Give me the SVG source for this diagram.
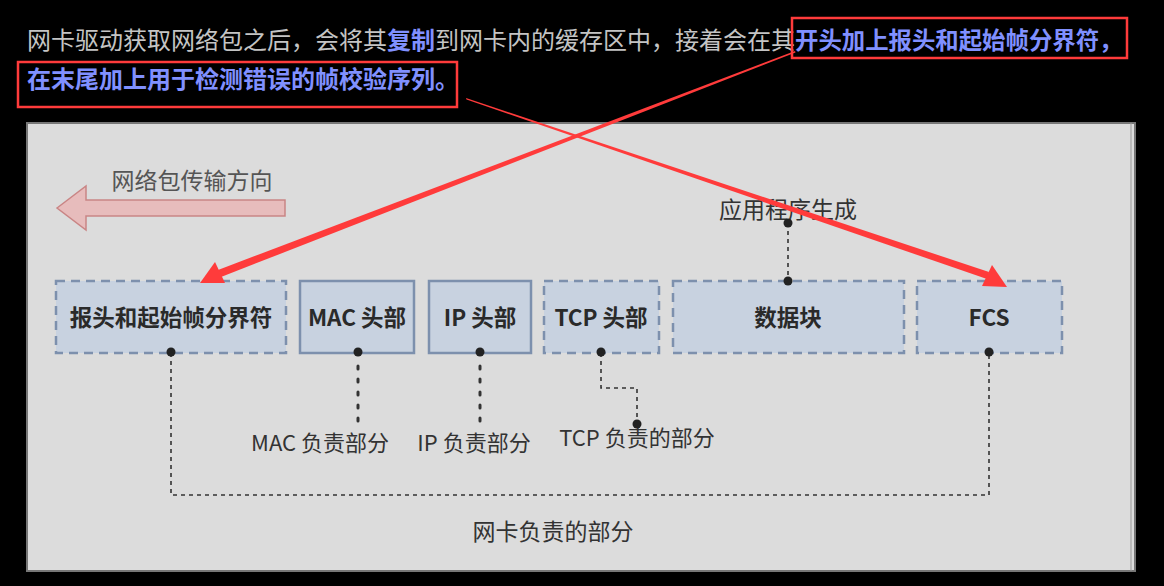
<svg xmlns="http://www.w3.org/2000/svg" width="1164" height="586" viewBox="0 0 1164 586">
<defs>
<style>
.t{font-family:"Noto Sans CJK SC","Noto Sans",sans-serif;}
.g{fill:#c4c4c4;}
.b{fill:#8090ff;font-weight:bold;}
.red{fill:none;stroke:#ff3b3b;stroke-width:2.5;}
.node{fill:#c8d2e0;stroke:#7d90ad;stroke-width:2.5;}
.dash{stroke-dasharray:9 6;}
.nt{font-family:"Noto Sans CJK SC",sans-serif;font-weight:bold;font-size:22.5px;fill:#2a2a2a;text-anchor:middle;}
.lab{font-family:"Noto Sans CJK SC",sans-serif;font-size:22px;fill:#333;text-anchor:middle;}
.dl{fill:none;stroke:#333;stroke-width:1.6;stroke-dasharray:4 4;}
.dd{fill:none;stroke:#333;stroke-width:3;stroke-dasharray:3 10;stroke-linecap:round;}
.dot{fill:#222;}
</style>
</defs>
<rect width="1164" height="586" fill="#000"/>
<g id="caption" class="t" font-size="24">
<text x="27" y="49" class="g">网卡驱动获取网络包之后，会将其<tspan class="b">复制</tspan>到网卡内的缓存区中，接着会在其<tspan x="795" class="b" font-size="23.4">开头加上报头和起始帧分界符，</tspan></text>
<text x="27" y="88" class="b">在末尾加上用于检测错误的帧校验序列。</text>
<rect x="792" y="18" width="335" height="40" class="red"/>
<rect x="18" y="62" width="439" height="45" class="red"/>
</g>
<g id="panel">
<rect x="27" y="123" width="1108" height="448" fill="#dcdcdc" stroke="#777" stroke-width="2"/>
<line x1="1131" y1="123" x2="1131" y2="571" stroke="#999" stroke-width="1"/>
</g>
<g id="direction">
<polygon points="57,208 86,186 86,200 285,200 285,216 86,216 86,230" fill="#e7bcbc" stroke="#c98585" stroke-width="1.5"/>
<text x="192" y="189" class="lab" style="fill:#555;font-size:23px">网络包传输方向</text>
</g>
<g id="app-label"><text x="788" y="218" class="lab" style="font-size:23px">应用程序生成</text></g>
<g id="n1"><rect x="56" y="281" width="230" height="72" class="node dash"/><text x="171" y="326" class="nt">报头和起始帧分界符</text></g>
<g id="n2"><rect x="300" y="281" width="114" height="72" class="node"/><text x="357" y="326" class="nt">MAC 头部</text></g>
<g id="n3"><rect x="429" y="281" width="102" height="72" class="node"/><text x="480" y="326" class="nt">IP 头部</text></g>
<g id="n4"><rect x="544" y="281" width="115" height="72" class="node dash"/><text x="601" y="326" class="nt">TCP 头部</text></g>
<g id="n5"><rect x="673" y="281" width="231" height="72" class="node dash"/><text x="788" y="326" class="nt">数据块</text></g>
<g id="n6"><rect x="917" y="281" width="145" height="72" class="node dash"/><text x="989" y="326" class="nt">FCS</text></g>
<g id="labels">
<text x="320" y="451" class="lab">MAC 负责部分</text>
<text x="474" y="451" class="lab">IP 负责部分</text>
<text x="637" y="446" class="lab">TCP 负责的部分</text>
<text x="553" y="540" class="lab" style="font-size:23px">网卡负责的部分</text>
</g>
<g id="connectors">
<path d="M171,353 V495 H989 V353" class="dl"/>
<path d="M358,366 V422" class="dd"/>
<path d="M480,366 V422" class="dd"/>
<path d="M601,353 V388 H637 V424" class="dl"/>
<path d="M788,223 V281" class="dl"/>
<circle cx="171" cy="352" r="4.5" class="dot"/>
<circle cx="358" cy="352" r="4.5" class="dot"/>
<circle cx="480" cy="352" r="4.5" class="dot"/>
<circle cx="601" cy="352" r="4.5" class="dot"/>
<circle cx="989" cy="352" r="4.5" class="dot"/>
<circle cx="637" cy="424" r="4.5" class="dot"/>
<circle cx="788" cy="223" r="4.5" class="dot"/>
<circle cx="788" cy="281" r="4.5" class="dot"/>
<polygon points="795,51 795.5,52.5 221,277 218,270" fill="#ff3b3b"/>
<polygon points="200,283 215,262 225,283" fill="#ff3b3b"/>
<polygon points="466,98 466.5,99.5 987,279 989,272" fill="#ff3b3b"/>
<polygon points="1007,287 982,286 992,265" fill="#ff3b3b"/>
</g>
</svg>
